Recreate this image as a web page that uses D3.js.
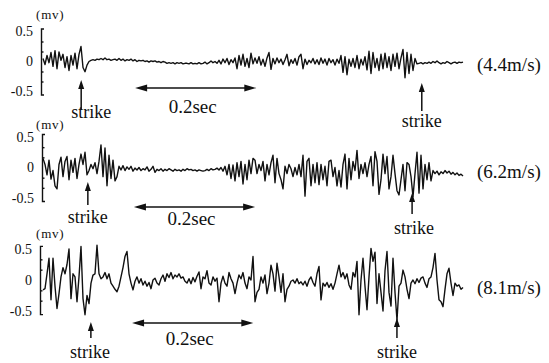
<!DOCTYPE html>
<html>

<head>
  <meta charset="utf-8">
  <title>EMG at strike</title>
  <style>
    body {
      margin: 0;
      background-color: #fff;
    }

    svg text {
      font-family: 'Liberation Serif', 'Times New Roman', serif;
      fill: #111;
    }

    .trace {
      fill: none;
      stroke: #111;
      stroke-width: 1.4px;
      stroke-linejoin: round;
    }

    .axis path,
    .axis line {
      stroke: #111;
      stroke-width: 1.4px;
    }

    .arrow line {
      stroke: #111;
      stroke-width: 1.5px;
    }

    .arrow path {
      fill: #111;
    }
  </style>
</head>

<body>
  <div id="chart"></div>
  <script src="https://d3js.org/d3.v7.min.js"></script>

  <script>
    // ---- data (mV, one sample every sampleDt seconds) ----
    var sampleDt = 0.0033;
    var speeds = ['(4.4m/s)', '(6.2m/s)', '(8.1m/s)'];
    var yTickValues = [-0.5, 0, 0.5];
    var yMinorTicks = [-1 / 3, -1 / 6, 1 / 6, 1 / 3];

    var trace44 = [
      0.05, -0.05, 0.10, -0.02, 0.15, -0.08, 0.18, -0.12, 0.16, 0.02, 0.12, -0.10, 0.08, -0.15, 0.10, -0.06, 0.14, -0.12, 0.12, 0.25, -0.10, -0.17, -0.06, 0.00, 0.02,
      0.03, 0.02, 0.04, 0.03, 0.05, 0.03, 0.06, 0.03, 0.04, 0.02, 0.03, 0.04, 0.02, 0.05, 0.02, 0.04, 0.01, 0.03, 0.02, 0.04, 0.01, 0.03, 0.00, 0.02, 0.01,
      0.02, 0.00, 0.01, -0.01, 0.01, 0.00, 0.01, -0.01, 0.00, -0.02, 0.00, -0.01, -0.03, -0.02, -0.03, -0.02, -0.04, -0.02, -0.03, -0.02, -0.04, -0.03, -0.03, -0.04, -0.02,
      -0.04, -0.03, -0.04, -0.02, -0.04, -0.03, -0.01, -0.04, -0.02, 0.01, -0.02, 0.00, -0.03, 0.02, -0.04, 0.04, -0.02, 0.05, -0.05, 0.03, -0.02, 0.06, -0.12, 0.10, -0.06,
      0.12, -0.08, 0.05, -0.10, 0.14, -0.04, 0.06, -0.03, 0.08, -0.06, 0.04, -0.08, 0.06, 0.15, -0.13, 0.05, -0.04, 0.06, -0.02, 0.04, -0.05, 0.03, 0.12, -0.07, 0.03,
      -0.03, 0.05, -0.06, 0.08, 0.12, -0.12, 0.04, -0.05, 0.02, -0.02, 0.05, -0.04, 0.03, -0.05, 0.06, -0.03, 0.04, -0.06, 0.05, -0.02, 0.03, -0.06, 0.04, -0.03, 0.10,
      -0.18, 0.08, -0.22, 0.04, -0.08, 0.05, -0.10, 0.10, -0.12, 0.04, -0.06, 0.08, -0.14, 0.17, -0.20, 0.15, -0.10, 0.05, -0.15, 0.12, -0.12, 0.14, -0.10, 0.08, -0.15,
      0.12, -0.08, 0.14, -0.12, 0.06, 0.20, -0.27, 0.15, -0.20, 0.12, -0.15, 0.05, -0.04, -0.03, -0.02, -0.04, -0.02, -0.03, -0.01, -0.03, 0.00, -0.02, 0.01, -0.02, -0.04,
      -0.02, -0.03, 0.00, -0.02, -0.04, -0.02, -0.01, -0.03, -0.01, -0.02, -0.01
    ];

    var trace62 = [
      0.15, 0.05, -0.12, 0.12, -0.19, -0.05, -0.30, -0.35, 0.05, 0.17, -0.15, 0.10, 0.18, -0.20, 0.12, -0.08, 0.15, -0.18, 0.05, 0.22, 0.05, 0.25, -0.12, -0.05, 0.05,
      -0.02, 0.08, -0.10, 0.10, 0.37, -0.15, 0.32, -0.30, 0.20, -0.18, 0.12, -0.22, -0.15, 0.02, -0.04, 0.03, -0.05, 0.01, -0.03, 0.02, -0.06, -0.01, -0.04, 0.00, -0.05,
      -0.02, -0.04, 0.01, -0.06, -0.03, 0.02, -0.08, -0.03, -0.05, -0.02, -0.06, -0.03, -0.05, -0.02, -0.04, -0.06, -0.03, -0.05, -0.04, -0.06, -0.03, -0.05, -0.02, -0.04, -0.03,
      -0.05, -0.04, -0.06, -0.04, -0.05, -0.06, -0.05, -0.03, -0.05, -0.02, -0.04, -0.03, -0.01, -0.04, 0.00, -0.06, 0.02, -0.12, 0.05, -0.18, 0.04, -0.22, 0.08, -0.15, 0.10,
      -0.27, 0.05, -0.20, 0.12, -0.10, 0.15, 0.12, -0.10, 0.05, -0.05, 0.10, -0.22, 0.05, -0.12, 0.08, 0.20, -0.25, 0.15, -0.10, -0.20, -0.35, 0.02, -0.10, 0.05, -0.02,
      -0.15, 0.00, -0.12, 0.05, -0.15, 0.20, -0.47, 0.10, 0.15, -0.30, 0.05, -0.25, 0.08, -0.28, 0.05, -0.20, 0.02, -0.30, 0.10, 0.12, -0.15, 0.00, -0.30, -0.05, -0.32,
      0.05, 0.22, -0.35, 0.15, -0.20, 0.10, -0.05, 0.28, -0.18, 0.05, -0.10, 0.08, -0.15, 0.05, 0.18, -0.30, 0.26, 0.10, -0.44, -0.20, 0.22, -0.10, 0.18, -0.35, -0.15,
      0.20, -0.10, -0.38, -0.45, -0.20, 0.05, -0.38, 0.08, 0.05, -0.15, -0.48, -0.10, 0.25, -0.42, 0.20, -0.35, 0.05, -0.20, 0.08, -0.22, -0.05, -0.10, -0.06, -0.12, -0.07,
      -0.10, -0.05, -0.09, -0.06, -0.11, -0.08, -0.12, -0.09, -0.13, -0.11, -0.14
    ];

    var trace81 = [
      -0.16, -0.14, 0.10, 0.35, -0.32, 0.35, -0.10, -0.46, -0.22, 0.05, 0.20, 0.10, 0.25, 0.50, -0.30, 0.10, 0.05, -0.35, 0.05, 0.54, -0.30, -0.56, -0.25, -0.38, -0.05,
      0.08, 0.10, 0.56, 0.10, 0.02, 0.05, 0.12, 0.02, 0.10, -0.05, -0.10, -0.15, -0.19, -0.10, 0.05, 0.20, 0.38, 0.46, 0.10, -0.05, -0.16, -0.02, 0.05, -0.05, 0.02,
      -0.08, -0.02, -0.10, -0.04, -0.14, 0.00, 0.03, -0.05, -0.08, 0.02, 0.08, -0.02, 0.10, 0.04, 0.12, 0.02, 0.08, 0.05, 0.10, 0.03, 0.05, -0.02, -0.05, 0.02, -0.06,
      0.04, -0.03, 0.06, 0.13, -0.14, 0.05, 0.02, 0.15, -0.05, -0.08, 0.05, -0.02, 0.03, -0.35, -0.05, 0.06, -0.05, -0.10, 0.12, 0.02, -0.05, -0.22, -0.05, 0.08, 0.02,
      0.12, -0.05, -0.14, 0.05, 0.00, 0.38, -0.35, -0.20, -0.15, 0.05, -0.05, 0.08, -0.22, -0.05, 0.24, 0.10, -0.18, 0.27, 0.05, -0.20, 0.10, -0.35, -0.15, -0.10, -0.02,
      0.00, -0.05, 0.02, -0.06, -0.03, -0.08, -0.02, -0.10, 0.00, 0.05, -0.04, -0.10, 0.10, 0.22, -0.32, -0.05, -0.10, -0.04, -0.12, -0.06, -0.15, -0.05, 0.10, 0.24, 0.05,
      0.12, 0.02, 0.10, -0.08, -0.15, 0.12, 0.05, 0.30, -0.56, 0.00, 0.35, -0.10, -0.48, 0.05, 0.51, 0.30, 0.45, -0.38, 0.10, -0.20, -0.50, 0.15, 0.46, -0.20, -0.42,
      0.35, -0.20, -0.65, -0.10, -0.05, 0.16, 0.05, -0.15, -0.30, -0.05, 0.00, -0.06, 0.02, -0.04, 0.03, 0.05, -0.05, -0.12, 0.02, 0.05, 0.20, 0.43, 0.00, -0.32, -0.35,
      -0.43, -0.15, 0.10, 0.19, -0.05, -0.25, -0.05, -0.10, -0.08, -0.15, -0.12
    ];

    // strike instants (s) and 0.2 s scale bar start (s)
    var strikeTimes = [[0.063, 0.625], [0.074, 0.609], [0.079, 0.584]];
    var barStart = [0.152, 0.150, 0.147];
    var barLength = 0.2;

    var traces = [trace44, trace62, trace81];

    // ---- layout ----
    var width = 549,
      height = 363;

    var panels = [
      { top: 31.5, bottom: 91.5, axisX: 41, mvY: 19, barY: 88, barLabelY: 113, speedY: 71,
        strikes: [{ tip: 80, tail: 110, textY: 118, dx: 10 }, { tip: 83, tail: 111, textY: 127, dx: 0 }] },
      { top: 137, bottom: 198, axisX: 42, mvY: 129, barY: 207, barLabelY: 225, speedY: 178,
        strikes: [{ tip: 182, tail: 205, textY: 223, dx: 0 }, { tip: 193, tail: 214, textY: 234, dx: 2 }] },
      { top: 249, bottom: 311, axisX: 40, mvY: 238, barY: 323, barLabelY: 345, speedY: 294,
        strikes: [{ tip: 322, tail: 338, textY: 358, dx: -1 }, { tip: 318, tail: 338, textY: 358, dx: 0 }] }
    ];

    var svg = d3.select("#chart").append("svg")
      .attr("width", width)
      .attr("height", height);

    var x = d3.scaleLinear()
      .domain([0, 0.693])
      .range([43, 463]);

    panels.forEach(function(p, k) {
      var g = svg.append("g");

      var y = d3.scaleLinear()
        .domain([-0.5, 0.5])
        .range([p.bottom, p.top]);

      // bracket-like axis with small ticks on the right
      var yAx = y.copy().domain([-0.55, 0.55]).range([y(-0.55), y(0.55)]);
      g.append("g")
        .attr("class", "axis")
        .attr("transform", "translate(" + p.axisX + ",0)")
        .call(d3.axisRight(yAx).tickValues(yMinorTicks).tickSizeInner(2.5).tickSizeOuter(3).tickFormat(""));

      // tick labels
      var lab = g.append("g")
        .attr("transform", "translate(" + p.axisX + ",0)")
        .call(d3.axisLeft(y).tickValues(yTickValues).tickSize(0).tickPadding(8)
          .tickFormat(function(d) { return String(d); }))
        .attr("font-family", "'Liberation Serif', serif")
        .attr("font-size", 14);
      lab.select(".domain").remove();
      lab.selectAll("text")
        .style("fill", "#111");

      g.append("text")
        .attr("x", 36)
        .attr("y", p.mvY)
        .style("font-size", "13px")
        .style("letter-spacing", "0.8px")
        .text("(mv)");

      // signal
      var line = d3.line()
        .x(function(d, i) { return x(i * sampleDt); })
        .y(function(d) { return y(d); });

      g.append("path")
        .datum(traces[k])
        .attr("class", "trace")
        .attr("d", line);

      g.append("text")
        .attr("x", 477)
        .attr("y", p.speedY)
        .style("font-size", "19px")
        .text(speeds[k]);

      // 0.2 s scale bar
      var x0 = x(barStart[k]),
        x1 = x(barStart[k] + barLength),
        hl = 12,
        hw = 3.5;
      var bar = g.append("g").attr("class", "arrow");
      bar.append("line")
        .attr("x1", x0 + 4).attr("x2", x1 - 4)
        .attr("y1", p.barY).attr("y2", p.barY);
      bar.append("path")
        .attr("d", "M" + x0 + "," + p.barY + "L" + (x0 + hl) + "," + (p.barY - hw) + "L" + (x0 + hl) + "," + (p.barY + hw) + "Z");
      bar.append("path")
        .attr("d", "M" + x1 + "," + p.barY + "L" + (x1 - hl) + "," + (p.barY - hw) + "L" + (x1 - hl) + "," + (p.barY + hw) + "Z");
      g.append("text")
        .attr("x", (x0 + x1) / 2 - 3)
        .attr("y", p.barLabelY)
        .attr("text-anchor", "middle")
        .style("font-size", "19px")
        .text("0.2sec");

      // strike markers
      strikeTimes[k].forEach(function(t, j) {
        var s = p.strikes[j],
          sx = x(t);
        var a = g.append("g").attr("class", "arrow");
        a.append("line")
          .attr("x1", sx).attr("x2", sx)
          .attr("y1", s.tip + 6).attr("y2", s.tail);
        a.append("path")
          .attr("d", "M" + sx + "," + s.tip + "L" + (sx - 3) + "," + (s.tip + 9) + "L" + (sx + 3) + "," + (s.tip + 9) + "Z");
        g.append("text")
          .attr("x", sx + s.dx)
          .attr("y", s.textY)
          .attr("text-anchor", "middle")
          .style("font-size", "18px")
          .text("strike");
      });
    });
  </script>
</body>

</html>
